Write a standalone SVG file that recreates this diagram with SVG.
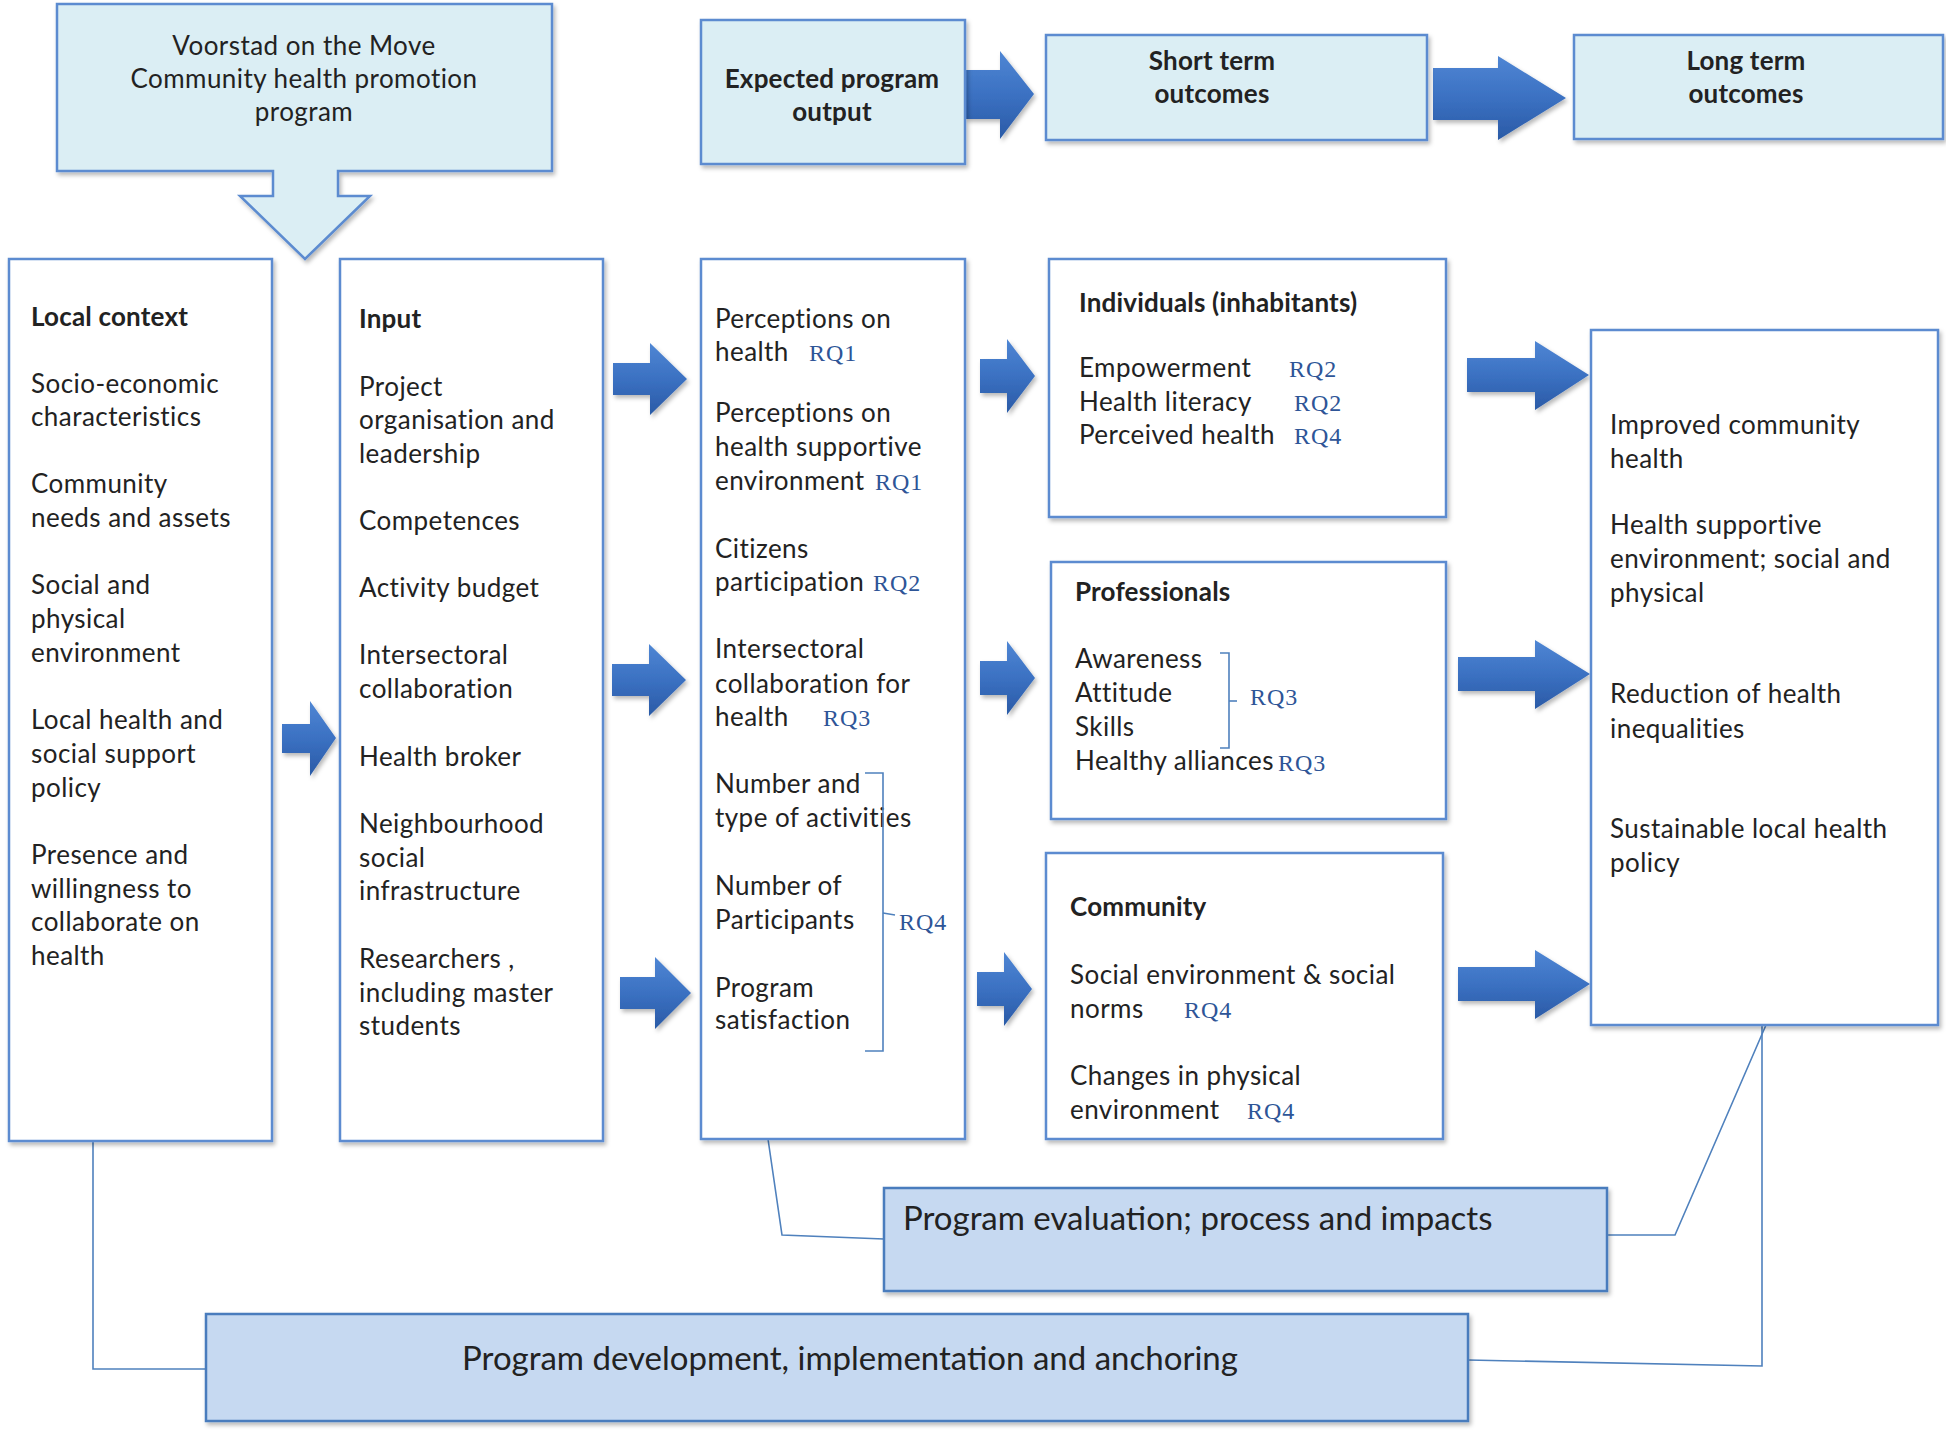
<svg xmlns="http://www.w3.org/2000/svg" width="1946" height="1435" viewBox="0 0 1946 1435">
<defs>
<filter id="sh" x="-5%" y="-5%" width="115%" height="115%">
<feDropShadow dx="2" dy="3" stdDeviation="2" flood-color="#000" flood-opacity="0.28"/>
</filter>
<linearGradient id="ag" x1="0" y1="0" x2="0" y2="1">
<stop offset="0" stop-color="#4f86d4"/>
<stop offset="0.5" stop-color="#3b71c2"/>
<stop offset="1" stop-color="#2a5aa6"/>
</linearGradient>
<style>
.box{fill:#fff;stroke:#5b8bd0;stroke-width:2.5;filter:url(#sh)}
.hdr{fill:#dbeef4;stroke:#5b8bd0;stroke-width:2.5;filter:url(#sh)}
.blu{fill:#c6d9f1;stroke:#4a7cbd;stroke-width:2.5;filter:url(#sh)}
.t{font-family:Lato,"Liberation Sans",sans-serif;font-size:26px;fill:#222;letter-spacing:0.45px}
.b{font-weight:bold;letter-spacing:0.2px}
.c{text-anchor:middle}
.big{font-size:33px;letter-spacing:0}
.rq{font-family:"Liberation Serif",serif;font-size:24px;fill:#2e5597;letter-spacing:1px}
.arr{fill:url(#ag);filter:url(#sh)}
.ln{stroke:#4f81bd;stroke-width:1.6;fill:none}
</style>
</defs>

<g id="connectors">
<polyline class="ln" points="93,1142 93,1369 206,1369"/>
<polyline class="ln" points="768,1139 782,1235 884,1239"/>
<polyline class="ln" points="1607,1235 1675,1235 1766,1025"/>
<polyline class="ln" points="1762,1025 1762,1366 1468,1360"/>
<path class="arr" d="M965,70 H1000 V51 L1034,94 L1000,139 V119 H965 Z"/>
<path class="arr" d="M1433,68 H1498 V56 L1566,98 L1498,140 V120 H1433 Z"/>
<path class="arr" d="M282,724 H310 V701 L336,738 L310,776 V753 H282 Z"/>
<path class="arr" d="M613,363 H650 V343 L687,379 L650,415 V395 H613 Z"/>
<path class="arr" d="M612,664 H649 V644 L686,680 L649,716 V696 H612 Z"/>
<path class="arr" d="M620,977 H655 V957 L691,993 L655,1029 V1009 H620 Z"/>
<path class="arr" d="M980,359 H1007 V339 L1035,376 L1007,413 V393 H980 Z"/>
<path class="arr" d="M980,661 H1007 V641 L1035,678 L1007,715 V695 H980 Z"/>
<path class="arr" d="M977,972 H1004 V952 L1032,989 L1004,1026 V1006 H977 Z"/>
<path class="arr" d="M1467,358 H1535 V341 L1589,375 L1535,410 V392 H1467 Z"/>
<path class="arr" d="M1458,657 H1535 V640 L1590,674 L1535,709 V691 H1458 Z"/>
<path class="arr" d="M1458,967 H1535 V950 L1590,984 L1535,1019 V1001 H1458 Z"/>
</g>

<g id="program">
<path class="hdr" d="M57,4 H552 V171 H338 V196 H370 L305,259 L240,196 H273 V171 H57 Z"/>
<text class="t c" x="304" y="55">Voorstad on the Move</text>
<text class="t c" x="304" y="88">Community health promotion</text>
<text class="t c" x="304" y="121">program</text>
</g>

<g id="expected-output">
<rect class="hdr" x="701" y="20" width="264" height="144"/>
<text class="t b c" x="832" y="88">Expected program</text>
<text class="t b c" x="832" y="121">output</text>
</g>

<g id="short-term">
<rect class="hdr" x="1046" y="35" width="381" height="105"/>
<text class="t b c" x="1212" y="70">Short term</text>
<text class="t b c" x="1212" y="103">outcomes</text>
</g>

<g id="long-term">
<rect class="hdr" x="1574" y="35" width="369" height="104"/>
<text class="t b c" x="1746" y="70">Long term</text>
<text class="t b c" x="1746" y="103">outcomes</text>
</g>

<g id="local-context">
<rect class="box" x="9" y="259" width="263" height="882"/>
<text class="t" x="31"><tspan class="b" x="31" y="326">Local context</tspan>
<tspan x="31" y="393">Socio-economic</tspan><tspan x="31" y="426">characteristics</tspan>
<tspan x="31" y="493">Community</tspan><tspan x="31" y="527">needs and assets</tspan>
<tspan x="31" y="594">Social and</tspan><tspan x="31" y="628">physical</tspan><tspan x="31" y="662">environment</tspan>
<tspan x="31" y="729">Local health and</tspan><tspan x="31" y="763">social support</tspan><tspan x="31" y="797">policy</tspan>
<tspan x="31" y="864">Presence and</tspan><tspan x="31" y="898">willingness to</tspan><tspan x="31" y="931">collaborate on</tspan><tspan x="31" y="965">health</tspan></text>
</g>

<g id="input">
<rect class="box" x="340" y="259" width="263" height="882"/>
<text class="t" x="359"><tspan class="b" x="359" y="328">Input</tspan>
<tspan x="359" y="396">Project</tspan><tspan x="359" y="429">organisation and</tspan><tspan x="359" y="463">leadership</tspan>
<tspan x="359" y="530">Competences</tspan>
<tspan x="359" y="597">Activity budget</tspan>
<tspan x="359" y="664">Intersectoral</tspan><tspan x="359" y="698">collaboration</tspan>
<tspan x="359" y="766">Health broker</tspan>
<tspan x="359" y="833">Neighbourhood</tspan><tspan x="359" y="867">social</tspan><tspan x="359" y="900">infrastructure</tspan>
<tspan x="359" y="968">Researchers ,</tspan><tspan x="359" y="1002">including master</tspan><tspan x="359" y="1035">students</tspan></text>
</g>

<g id="output">
<rect class="box" x="701" y="259" width="264" height="880"/>
<text class="t" x="715"><tspan x="715" y="328">Perceptions on</tspan><tspan x="715" y="361">health</tspan>
<tspan x="715" y="422">Perceptions on</tspan><tspan x="715" y="456">health supportive</tspan><tspan x="715" y="490">environment</tspan>
<tspan x="715" y="558">Citizens</tspan><tspan x="715" y="591">participation</tspan>
<tspan x="715" y="658">Intersectoral</tspan><tspan x="715" y="693">collaboration for</tspan><tspan x="715" y="726">health</tspan>
<tspan x="715" y="793">Number and</tspan><tspan x="715" y="827">type of activities</tspan>
<tspan x="715" y="895">Number of</tspan><tspan x="715" y="929">Participants</tspan>
<tspan x="715" y="997">Program</tspan><tspan x="715" y="1029">satisfaction</tspan></text>
<text class="rq" x="809" y="361">RQ1</text>
<text class="rq" x="875" y="490">RQ1</text>
<text class="rq" x="873" y="591">RQ2</text>
<text class="rq" x="823" y="726">RQ3</text>
<polyline class="ln" points="865,773 883,773 883,1051 865,1051"/>
<polyline class="ln" points="883,913 895,915"/>
<text class="rq" x="899" y="930">RQ4</text>
</g>

<g id="individuals">
<rect class="box" x="1049" y="259" width="397" height="258"/>
<text class="t b" x="1079" y="312">Individuals (inhabitants)</text>
<text class="t" x="1079"><tspan x="1079" y="377">Empowerment</tspan><tspan x="1079" y="411">Health literacy</tspan><tspan x="1079" y="444">Perceived health</tspan></text>
<text class="rq" x="1289" y="377">RQ2</text>
<text class="rq" x="1294" y="411">RQ2</text>
<text class="rq" x="1294" y="444">RQ4</text>
</g>

<g id="professionals">
<rect class="box" x="1051" y="562" width="395" height="257"/>
<text class="t b" x="1075" y="601">Professionals</text>
<text class="t" x="1075"><tspan x="1075" y="668">Awareness</tspan><tspan x="1075" y="702">Attitude</tspan><tspan x="1075" y="736">Skills</tspan><tspan x="1075" y="770">Healthy alliances</tspan></text>
<polyline class="ln" points="1220,653 1229,653 1229,748 1220,748"/>
<polyline class="ln" points="1229,701 1237,701"/>
<text class="rq" x="1250" y="705">RQ3</text>
<text class="rq" x="1278" y="771">RQ3</text>
</g>

<g id="community">
<rect class="box" x="1046" y="853" width="397" height="286"/>
<text class="t b" x="1070" y="916">Community</text>
<text class="t" x="1070"><tspan x="1070" y="984">Social environment &amp; social</tspan><tspan x="1070" y="1018">norms</tspan><tspan x="1070" y="1085">Changes in physical</tspan><tspan x="1070" y="1119">environment</tspan></text>
<text class="rq" x="1184" y="1018">RQ4</text>
<text class="rq" x="1247" y="1119">RQ4</text>
</g>

<g id="long-term-outcomes">
<rect class="box" x="1591" y="330" width="347" height="695"/>
<text class="t" x="1610"><tspan x="1610" y="434">Improved community</tspan><tspan x="1610" y="468">health</tspan>
<tspan x="1610" y="534">Health supportive</tspan><tspan x="1610" y="568">environment; social and</tspan><tspan x="1610" y="602">physical</tspan>
<tspan x="1610" y="703">Reduction of health</tspan><tspan x="1610" y="738">inequalities</tspan>
<tspan x="1610" y="838">Sustainable local health</tspan><tspan x="1610" y="872">policy</tspan></text>
</g>

<g id="evaluation">
<rect class="blu" x="884" y="1188" width="723" height="103"/>
<text class="t big" x="903" y="1230">Program evaluation; process and impacts</text>
</g>

<g id="development">
<rect class="blu" x="206" y="1314" width="1262" height="107"/>
<text class="t big c" x="850" y="1370">Program development, implementation and anchoring</text>
</g>
</svg>
